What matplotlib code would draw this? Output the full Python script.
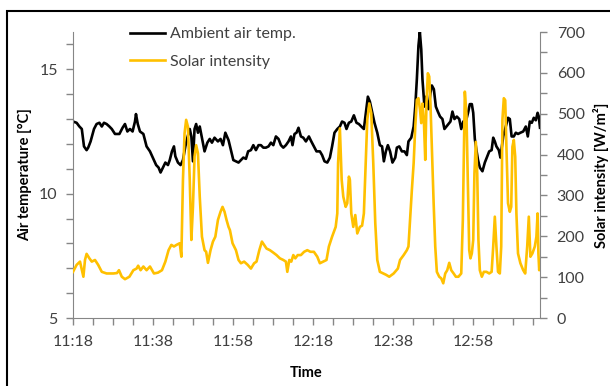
import matplotlib
matplotlib.use('Agg')
import matplotlib.pyplot as plt
import matplotlib.dates as mdates
from matplotlib.patches import Rectangle
import numpy as np
import pandas as pd

plt.rcParams['font.family'] = ['Lato', 'DejaVu Sans']
plt.rcParams['font.size'] = 11.5

start = pd.Timestamp('2013-01-01 11:18')

# ambient air temperature [degC], minutes after 11:18
temp_min = [0.0, 0.9, 1.6, 2.2, 2.75, 3.4, 3.8, 4.4, 5.25, 5.9, 6.6, 7.2, 7.75, 8.4, 9.1, 9.7,
            10.5, 11.6, 12.4, 13.0, 13.6, 14.25, 14.9, 15.5, 15.75, 16.2, 16.75, 17.6, 18.4, 19.25,
            20.25, 20.8, 21.4, 21.9, 22.5, 23.1, 23.75, 24.2, 24.75, 25.25, 25.6, 26.25, 26.9, 27.5,
            28.1, 28.6, 29.2, 29.6, 30.0, 30.4, 30.8, 31.25, 31.7, 32.25, 32.9, 33.6, 34.2, 34.75,
            35.4, 36.25, 36.9, 37.5, 38.1, 38.9, 39.5, 40.1, 40.75, 41.4, 42.0, 42.6, 43.25, 43.8,
            44.5, 45.1, 45.75, 46.4, 47.0, 47.6, 48.25, 48.9, 49.5, 50.1, 50.75, 51.4, 52.0, 52.6,
            53.25, 53.9, 54.5, 54.9, 55.4, 55.9, 56.4, 57.0, 57.6, 58.25, 59.0, 59.6, 60.25, 60.9,
            61.75, 62.3, 62.9, 63.6, 64.25, 64.8, 65.4, 66.1, 66.75, 67.3, 67.9, 68.4, 69.0, 69.6,
            70.25, 70.9, 71.5, 72.1, 72.75, 73.25, 73.75, 74.25, 74.8, 75.4, 76.1, 76.75, 77.3,
            77.75, 78.25, 78.75, 79.3, 79.9, 80.6, 81.0, 81.6, 82.25, 82.9, 83.5, 83.9, 84.6, 85.2,
            85.6, 86.0, 86.4, 86.75, 87.1, 87.4, 87.9, 88.3, 88.9, 89.4, 89.75, 90.25, 90.75, 91.25,
            91.8, 92.4, 92.9, 93.4, 93.9, 94.4, 94.9, 95.4, 96.0, 96.6, 97.1, 97.6, 98.25, 98.8,
            99.25, 99.75, 100.1, 100.5, 100.9, 101.3, 101.75, 102.4, 103.0, 103.6, 104.1, 104.7,
            105.1, 105.5, 105.9, 106.5, 106.9, 107.6, 108.25, 108.8, 109.25, 109.7, 110.25, 110.75,
            111.3, 111.9, 112.6, 113.25, 113.75, 114.25, 114.75, 115.25, 115.75, 116.2, 116.5, 116.8]
temp_val = [12.9, 12.85, 12.7, 12.6, 11.9, 11.75, 11.85, 12.1, 12.6, 12.8, 12.85, 12.7, 12.85, 12.8,
            12.7, 12.6, 12.4, 12.4, 12.65, 12.8, 12.5, 12.6, 12.5, 12.9, 13.2, 12.8, 12.5, 12.4, 11.9,
            11.7, 11.35, 11.15, 11.05, 10.85, 11.05, 11.25, 11.15, 11.35, 11.7, 11.9, 11.5, 11.25,
            11.15, 11.35, 11.9, 12.25, 12.6, 12.3, 11.3, 12.6, 12.8, 12.45, 12.7, 12.25, 11.7, 12.05,
            12.2, 12.05, 12.25, 12.1, 12.2, 11.95, 12.45, 12.15, 11.75, 11.35, 11.3, 11.25, 11.35,
            11.45, 11.4, 11.7, 11.75, 11.95, 11.75, 11.95, 11.95, 11.85, 11.85, 11.9, 12.05, 11.95,
            12.3, 12.2, 11.95, 11.85, 11.95, 12.1, 12.3, 11.95, 12.4, 12.45, 12.65, 12.3, 12.25, 12.1,
            12.3, 12.1, 11.9, 11.7, 11.7, 11.55, 11.3, 11.25, 11.45, 11.9, 12.45, 12.6, 12.7, 12.9,
            12.85, 12.6, 12.85, 12.9, 13.15, 12.85, 12.8, 12.7, 12.6, 13.25, 13.9, 13.7, 13.3, 12.85,
            12.45, 11.95, 11.9, 11.3, 11.7, 11.95, 11.7, 11.25, 11.45, 11.85, 11.9, 11.7, 11.7, 11.55,
            12.1, 12.25, 12.7, 13.5, 14.6, 15.95, 16.5, 15.8, 14.6, 13.5, 13.9, 13.4, 14.05, 14.35,
            14.2, 13.5, 13.3, 13.1, 13.0, 12.6, 12.7, 12.8, 12.9, 13.3, 13.0, 13.1, 13.0, 12.6, 12.9,
            12.9, 13.25, 13.6, 13.6, 13.25, 12.2, 11.75, 11.35, 11.05, 10.9, 11.25, 11.5, 11.7, 11.75,
            12.25, 12.1, 11.9, 11.75, 11.45, 12.3, 12.7, 13.05, 13.0, 12.3, 12.3, 12.45, 12.4, 12.45,
            12.5, 12.7, 12.3, 12.9, 12.85, 13.05, 12.95, 13.25, 13.1, 12.65]

# solar intensity [W/m2], minutes after 11:18
solar_min = [0.0, 0.9, 1.75, 2.6, 3.0, 3.4, 4.1, 4.7, 5.5, 6.3, 7.2, 8.4, 10.1, 11.0, 11.5, 12.2,
             13.0, 14.1, 15.1, 15.9, 16.3, 16.9, 17.6, 18.4, 19.25, 20.25, 21.25, 22.25, 23.1, 23.9,
             24.6, 25.25, 25.9, 26.7, 27.1, 27.5, 27.9, 28.3, 28.75, 29.2, 29.6, 30.0, 30.4, 30.8,
             31.25, 31.7, 32.25, 32.9, 33.3, 33.75, 34.4, 35.0, 35.6, 36.25, 36.9, 37.4, 37.9, 38.4,
             38.9, 39.25, 39.9, 40.75, 41.4, 42.0, 42.8, 43.7, 44.5, 45.3, 45.9, 46.6, 47.25, 47.8,
             48.4, 49.25, 50.1, 50.9, 51.75, 52.6, 53.25, 53.6, 54.1, 54.6, 55.1, 55.6, 56.2, 57.0,
             57.8, 58.6, 59.4, 60.25, 61.1, 61.75, 62.6, 63.4, 64.0, 64.8, 65.7, 66.1, 66.3, 66.75,
             67.2, 67.6, 68.2, 68.6, 69.0, 69.25, 69.6, 70.1, 70.6, 71.1, 71.75, 72.3, 72.75, 73.2,
             73.6, 74.1, 74.6, 75.1, 75.6, 76.1, 76.75, 77.6, 78.25, 79.1, 80.2, 81.25, 81.8, 82.7,
             83.5, 83.9, 84.3, 84.75, 85.2, 85.6, 86.0, 86.4, 86.8, 87.1, 87.4, 87.75, 88.1, 88.4,
             88.75, 89.1, 89.4, 89.75, 90.2, 90.6, 91.0, 91.6, 92.1, 92.6, 93.1, 93.6, 94.1, 94.6,
             95.2, 95.75, 96.4, 97.1, 97.5, 97.75, 98.0, 98.4, 98.75, 99.1, 99.4, 99.75, 100.1,
             100.4, 100.75, 101.1, 101.4, 101.75, 102.25, 102.75, 103.4, 104.1, 104.7, 105.1, 105.5,
             105.9, 106.3, 106.75, 107.1, 107.4, 107.75, 108.1, 108.4, 108.8, 109.25, 109.6, 109.9,
             110.25, 110.6, 110.9, 111.3, 111.9, 112.6, 113.1, 113.6, 114.0, 114.4, 114.9, 115.5,
             115.9, 116.2, 116.4, 116.6, 116.8]
solar_val = [113, 130, 138, 101, 142, 157, 146, 138, 142, 130, 113, 109, 109, 110, 117, 101, 95, 101,
             117, 121, 128, 117, 126, 117, 126, 109, 111, 117, 138, 166, 179, 175, 179, 183, 150, 338,
             452, 485, 468, 338, 191, 272, 395, 423, 403, 297, 199, 166, 162, 135, 166, 187, 199, 240,
             260, 272, 260, 240, 223, 215, 183, 166, 142, 134, 138, 130, 121, 134, 138, 166, 187, 179,
             170, 166, 160, 154, 146, 142, 138, 113, 142, 138, 154, 146, 154, 154, 162, 166, 162, 162,
             150, 134, 138, 142, 175, 199, 223, 256, 379, 464, 338, 297, 272, 281, 346, 338, 256, 223,
             252, 207, 223, 226, 256, 379, 485, 525, 501, 379, 232, 142, 113, 109, 106, 101, 109, 121,
             142, 154, 166, 175, 240, 313, 379, 468, 534, 538, 509, 477, 525, 485, 387, 525, 599, 591,
             525, 419, 281, 175, 113, 101, 97, 85, 109, 117, 135, 117, 109, 101, 101, 109, 240, 400,
             554, 501, 338, 166, 146, 158, 191, 354, 431, 354, 191, 117, 101, 113, 113, 109, 113, 175,
             248, 175, 113, 109, 175, 485, 538, 533, 419, 281, 260, 272, 419, 436, 395, 256, 158, 134,
             117, 109, 175, 248, 150, 158, 175, 199, 256, 158, 117, 134]

t_temp = start + pd.to_timedelta(temp_min, unit='min')
t_solar = start + pd.to_timedelta(solar_min, unit='min')

grey = '#868686'
tick_col = '#404040'

fig = plt.figure(figsize=(6.10, 3.86), dpi=100)
ax = fig.add_axes([73/610, 1-318/386, (540-73)/610, (318-32)/386])
ax2 = ax.twinx()

l1, = ax.plot(t_temp, temp_val, color='black', lw=1.9, label='Ambient air temp.')
l2, = ax2.plot(t_solar, solar_val, color='#FFC000', lw=1.9, label='Solar intensity')

ax.set_xlim(start, start + pd.Timedelta(minutes=116.8))
ax.set_ylim(5, 16.5)
ax2.set_ylim(0, 700)

ax.xaxis.set_major_locator(mdates.MinuteLocator(byminute=[18, 38, 58]))
ax.xaxis.set_minor_locator(mdates.MinuteLocator(byminute=range(3, 60, 5)))
ax.xaxis.set_major_formatter(mdates.DateFormatter('%H:%M'))
ax.set_yticks([5, 10, 15])
ax.set_yticks(np.arange(5, 17, 1), minor=True)
ax2.set_yticks(np.arange(0, 701, 100))
ax2.set_yticks(np.arange(0, 701, 50), minor=True)

for a in (ax, ax2):
    for s in a.spines.values():
        s.set_color(grey)
    a.spines['top'].set_visible(False)
    a.tick_params(which='both', color=grey, labelcolor=tick_col, length=5, width=1)
ax.spines['right'].set_visible(False)
ax2.spines['left'].set_visible(False)
ax2.spines['bottom'].set_visible(False)
ax.tick_params(axis='x', pad=7.5)
ax.tick_params(axis='y', pad=6)
ax2.tick_params(axis='y', pad=7)

lab = dict(fontweight='bold', fontsize=10.5, color='black')
ax.set_xlabel('Time', labelpad=12, **lab)
ax.set_ylabel('Air temperature [°C]', labelpad=5, **lab)
ax2.set_ylabel('Solar intensity [W/m²]', labelpad=6, **lab)

ax2.legend(handles=[l1, l2], loc='upper left', bbox_to_anchor=(130/610, 1-27/386),
           bbox_transform=fig.transFigure, frameon=False, handlelength=2.2,
           handletextpad=0.3, labelspacing=0.85, borderpad=0, borderaxespad=0,
           labelcolor=tick_col)

fig.patches.append(Rectangle((7/610, -0.2), 1.2, 1.2 - 10.5/386, transform=fig.transFigure,
                             fill=False, edgecolor='black', lw=1.5))

fig.savefig('out.png', dpi=100)
